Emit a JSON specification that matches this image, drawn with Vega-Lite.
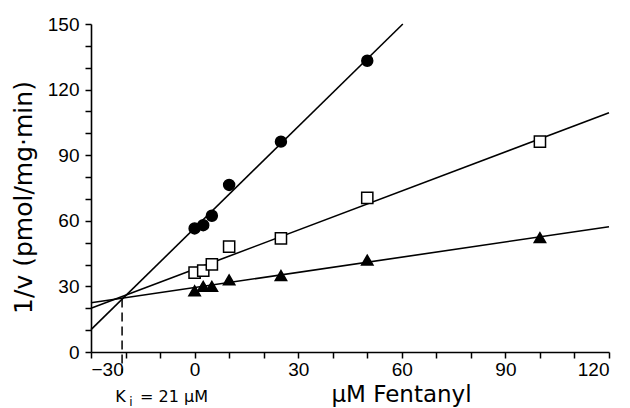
{
  "$schema": "https://vega.github.io/schema/vega-lite/v6.json",
  "width": 518,
  "height": 328,
  "autosize": "none",
  "padding": {"left": 91, "top": 24, "right": 21, "bottom": 56},
  "background": "white",
  "config": {
    "view": {"stroke": null},
    "font": "Liberation Sans",
    "axis": {
      "labelOverlap": false,
      "labelBound": false,
      "grid": false,
      "ticks": true,
      "domainColor": "black", "domainWidth": 1.6,
      "tickColor": "black", "tickWidth": 1.5, "tickSize": 6,
      "labelFontSize": 19, "labelColor": "black",
      "labelFont": "Liberation Sans",
      "titleFont": "DejaVu Sans", "titleFontWeight": "normal", "titleColor": "black"
    }
  },
  "datasets": {
    "points": [
      {"series": "A", "x": 0, "y": 56.5},
      {"series": "A", "x": 2.5, "y": 58},
      {"series": "A", "x": 5, "y": 62.3},
      {"series": "A", "x": 10, "y": 76.4},
      {"series": "A", "x": 25, "y": 96.2},
      {"series": "A", "x": 50, "y": 133.2},
      {"series": "B", "x": 0, "y": 36.3},
      {"series": "B", "x": 2.5, "y": 37.2},
      {"series": "B", "x": 5, "y": 40.1},
      {"series": "B", "x": 10, "y": 48.2},
      {"series": "B", "x": 25, "y": 52},
      {"series": "B", "x": 50, "y": 70.5},
      {"series": "B", "x": 100, "y": 96.2},
      {"series": "C", "x": 0, "y": 28},
      {"series": "C", "x": 2.5, "y": 30},
      {"series": "C", "x": 5, "y": 30},
      {"series": "C", "x": 10, "y": 33},
      {"series": "C", "x": 25, "y": 35},
      {"series": "C", "x": 50, "y": 42},
      {"series": "C", "x": 100, "y": 52.3}
    ],
    "lines": [
      {"series": "A", "x": -30, "y": 10.2},
      {"series": "A", "x": 60.3, "y": 150},
      {"series": "B", "x": -30, "y": 20},
      {"series": "B", "x": 120, "y": 109.4},
      {"series": "C", "x": -30, "y": 22.5},
      {"series": "C", "x": 120, "y": 57.3}
    ],
    "ki": [{"x": -21, "y": 24.5, "y2": -9.6}],
    "kiMain": [
      {"t": "K", "x": -23, "y": -22.8},
      {"t": "= 21 μM", "x": -15.8, "y": -22.8}
    ],
    "kiSub": [{"t": "i", "x": -18.9, "y": -24.6}]
  },
  "encoding": {
    "x": {
      "field": "x", "type": "quantitative",
      "scale": {"domain": [-30, 120], "nice": false, "zero": false},
      "axis": {
        "values": [-30, -20, -10, 0, 10, 20, 30, 40, 50, 60, 70, 80, 90, 100, 110, 120],
        "labelExpr": "datum.value % 30 === 0 ? datum.label : ''",
        "labelOverlap": false,
        "labelPadding": 2,
        "encode": {"ticks": {"update": {"y2": {"value": -6}}}},
        "title": "μM   Fentanyl",
        "titleFontSize": 23,
        "titleX": 310, "titleY": 49, "titleAlign": "center", "titleBaseline": "alphabetic"
      }
    },
    "y": {
      "field": "y", "type": "quantitative",
      "scale": {"domain": [0, 150], "nice": false, "zero": false},
      "axis": {
        "values": [0, 10, 20, 30, 40, 50, 60, 70, 80, 90, 100, 110, 120, 130, 140, 150],
        "labelExpr": "datum.value % 30 === 0 ? datum.label : ''",
        "labelOverlap": false,
        "labelPadding": 6,
        "encode": {"ticks": {"update": {"x2": {"value": 6}}}},
        "title": "1/v   (pmol/mg·min)",
        "titleFontSize": 25,
        "titleX": -68, "titleY": 173, "titleAlign": "center", "titleBaseline": "middle", "titleAngle": -90
      }
    }
  },
  "layer": [
    {
      "data": {"name": "lines"},
      "mark": {"type": "line", "color": "black", "strokeWidth": 1.6},
      "encoding": {
        "detail": {"field": "series", "type": "nominal"}
      }
    },
    {
      "data": {"name": "ki"},
      "mark": {"type": "rule", "color": "black", "strokeWidth": 1.5, "strokeDash": [9, 5], "clip": false},
      "encoding": {
        "y2": {"field": "y2"}
      }
    },
    {
      "data": {"name": "points"},
      "mark": {"type": "point", "filled": true, "stroke": "black", "strokeWidth": 1.5, "opacity": 1},
      "encoding": {
        "shape": {"field": "series", "type": "nominal", "scale": {"domain": ["A", "B", "C"], "range": ["circle", "square", "triangle-up"]}, "legend": null},
        "fill": {"field": "series", "type": "nominal", "scale": {"domain": ["A", "B", "C"], "range": ["black", "white", "black"]}, "legend": null},
        "size": {"field": "series", "type": "nominal", "scale": {"domain": ["A", "B", "C"], "range": [120, 130, 110]}, "legend": null}
      }
    },
    {
      "data": {"name": "kiMain"},
      "mark": {"type": "text", "align": "left", "baseline": "alphabetic", "fontSize": 16, "font": "DejaVu Sans", "fill": "black", "clip": false},
      "encoding": {
        "text": {"field": "t"}
      }
    },
    {
      "data": {"name": "kiSub"},
      "mark": {"type": "text", "align": "left", "baseline": "alphabetic", "fontSize": 12, "font": "DejaVu Sans", "fill": "black", "clip": false},
      "encoding": {
        "text": {"field": "t"}
      }
    }
  ]
}
